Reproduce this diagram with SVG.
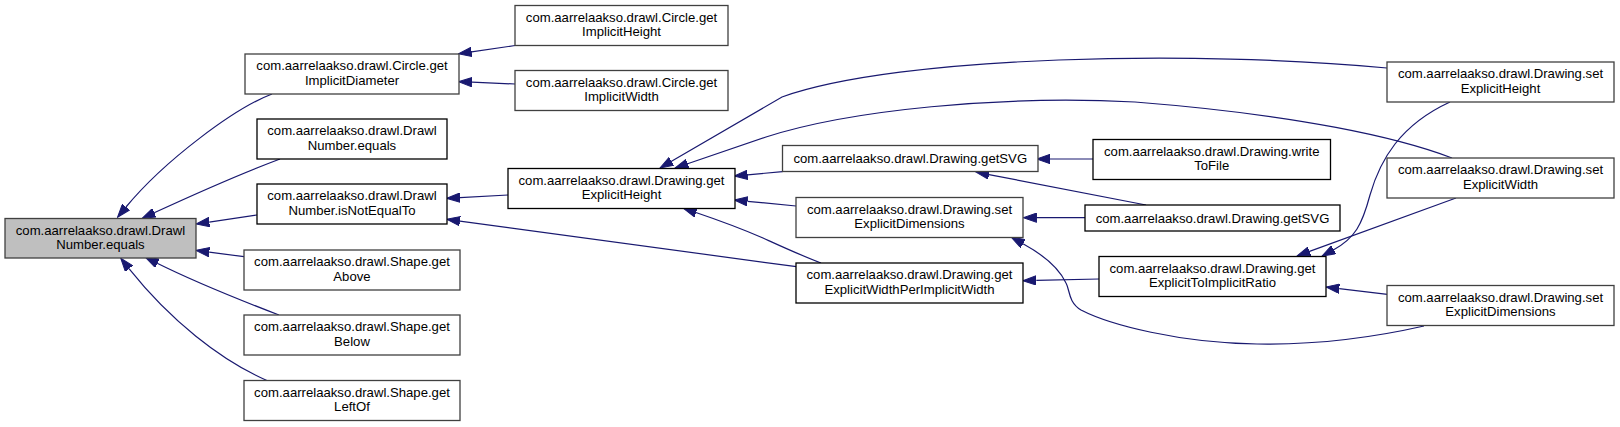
<svg xmlns="http://www.w3.org/2000/svg" width="1620" height="427" viewBox="0 0 1620 427">
<defs>
<style>
.n rect{fill:#fff;stroke:#000;stroke-width:1.3}
.n.g rect{stroke:#404040}
.n.sel rect{fill:#bfbfbf;stroke:#404040}
.n text{font-family:"Liberation Sans",Arial,Helvetica,sans-serif;font-size:13.15px;fill:#000;text-anchor:middle}
.e path{fill:none;stroke:#191970;stroke-width:1.2;marker-end:url(#ah)}
</style>
<marker id="ah" viewBox="0 -5 14 10" refX="0" refY="0" markerWidth="14" markerHeight="10" markerUnits="userSpaceOnUse" orient="auto">
<path d="M0,-4.65 L13.3,0 L0,4.65 z" fill="#191970" stroke="#191970" stroke-width="1"/>
</marker>
</defs>
<rect width="1620" height="427" fill="#fff"/>
<g id="edges" class="e">
<path d="M272,94 C235,108 165,160 126,207"/>
<path d="M280,159 C240,174 195,194 154.2,212.8"/>
<path d="M257,215 L209.2,222.1"/>
<path d="M244,256.7 L209.2,252.1"/>
<path d="M279,315 C240,300 195,282 157.2,263.2"/>
<path d="M268,381 C220,360 170,320 129,268.6"/>
<path d="M515,45.5 L471.6,51.9"/>
<path d="M515,84 L472,82.2"/>
<path d="M508,195 L460,197.6"/>
<path d="M796.4,266.7 L459.9,221.1"/>
<path d="M782.5,171.7 L747.6,174.8"/>
<path d="M796,206 L747.5,201.3"/>
<path d="M821,263 C800,255 785,248 763,238 C740,228 718,220 695.9,212.5"/>
<path d="M1387,68 C1200,50 900,55 782,97 L671.5,161.3"/>
<path d="M1452,158 C1400,138 1300,115 1135,102 C1000,95 850,110 766,137 L687.6,163.7"/>
<path d="M1093,159 L1050,159"/>
<path d="M1146,205 L989,174.6"/>
<path d="M1085,217.7 L1036.6,217.7"/>
<path d="M1099,279 L1036.3,280.4"/>
<path d="M1424,326 C1380,336 1320,345 1257,344 C1180,343 1110,325 1081,310 C1068,302 1070,290 1066,283 C1058,266 1040,253 1023,243.7"/>
<path d="M1450,102 C1400,125 1380,160 1370,195 C1362,225 1355,238 1333.7,249.7"/>
<path d="M1456,198 L1309.5,251.4"/>
<path d="M1387.4,294.3 L1339.2,288.6"/>
</g>
<g id="n0" class="n sel"><rect x="5" y="218.5" width="191" height="39.5"/><text x="100.5" y="234.5">com.aarrelaakso.drawl.Drawl</text><text x="100.5" y="249">Number.equals</text></g>
<g id="n1" class="n g"><rect x="245" y="54" width="214" height="40"/><text x="352" y="70">com.aarrelaakso.drawl.Circle.get</text><text x="352" y="84.5">ImplicitDiameter</text></g>
<g id="n2" class="n"><rect x="257" y="119" width="190" height="40"/><text x="352" y="135">com.aarrelaakso.drawl.Drawl</text><text x="352" y="149.5">Number.equals</text></g>
<g id="n3" class="n"><rect x="257" y="184" width="190" height="40"/><text x="352" y="200">com.aarrelaakso.drawl.Drawl</text><text x="352" y="214.5">Number.isNotEqualTo</text></g>
<g id="n4" class="n g"><rect x="244" y="250" width="216" height="40"/><text x="352" y="266">com.aarrelaakso.drawl.Shape.get</text><text x="352" y="280.5">Above</text></g>
<g id="n5" class="n g"><rect x="244" y="315" width="216" height="40"/><text x="352" y="331">com.aarrelaakso.drawl.Shape.get</text><text x="352" y="345.5">Below</text></g>
<g id="n6" class="n g"><rect x="244" y="380.5" width="216" height="40"/><text x="352" y="396.5">com.aarrelaakso.drawl.Shape.get</text><text x="352" y="411">LeftOf</text></g>
<g id="n7" class="n g"><rect x="515" y="5.5" width="213" height="40"/><text x="621.5" y="21.5">com.aarrelaakso.drawl.Circle.get</text><text x="621.5" y="36">ImplicitHeight</text></g>
<g id="n8" class="n g"><rect x="515" y="70.5" width="213" height="40"/><text x="621.5" y="86.5">com.aarrelaakso.drawl.Circle.get</text><text x="621.5" y="101">ImplicitWidth</text></g>
<g id="n9" class="n"><rect x="508" y="168.5" width="227" height="40"/><text x="621.5" y="184.5">com.aarrelaakso.drawl.Drawing.get</text><text x="621.5" y="199">ExplicitHeight</text></g>
<g id="n10" class="n g"><rect x="782.5" y="145.5" width="255.5" height="26"/><text x="910.25" y="163">com.aarrelaakso.drawl.Drawing.getSVG</text></g>
<g id="n11" class="n g"><rect x="796" y="197.5" width="227" height="40"/><text x="909.5" y="213.5">com.aarrelaakso.drawl.Drawing.set</text><text x="909.5" y="228">ExplicitDimensions</text></g>
<g id="n12" class="n"><rect x="796" y="263" width="227" height="40"/><text x="909.5" y="279">com.aarrelaakso.drawl.Drawing.get</text><text x="909.5" y="293.5">ExplicitWidthPerImplicitWidth</text></g>
<g id="n13" class="n"><rect x="1093" y="139.5" width="237.5" height="40"/><text x="1211.75" y="155.5">com.aarrelaakso.drawl.Drawing.write</text><text x="1211.75" y="170">ToFile</text></g>
<g id="n14" class="n"><rect x="1085" y="205" width="255" height="26"/><text x="1212.5" y="222.5">com.aarrelaakso.drawl.Drawing.getSVG</text></g>
<g id="n15" class="n"><rect x="1099" y="256.5" width="227" height="40"/><text x="1212.5" y="272.5">com.aarrelaakso.drawl.Drawing.get</text><text x="1212.5" y="287">ExplicitToImplicitRatio</text></g>
<g id="n16" class="n g"><rect x="1387" y="62" width="227" height="40"/><text x="1500.5" y="78">com.aarrelaakso.drawl.Drawing.set</text><text x="1500.5" y="92.5">ExplicitHeight</text></g>
<g id="n17" class="n g"><rect x="1387" y="158" width="227" height="40"/><text x="1500.5" y="174">com.aarrelaakso.drawl.Drawing.set</text><text x="1500.5" y="188.5">ExplicitWidth</text></g>
<g id="n18" class="n g"><rect x="1387" y="285.5" width="227" height="40"/><text x="1500.5" y="301.5">com.aarrelaakso.drawl.Drawing.set</text><text x="1500.5" y="316">ExplicitDimensions</text></g>
</svg>
